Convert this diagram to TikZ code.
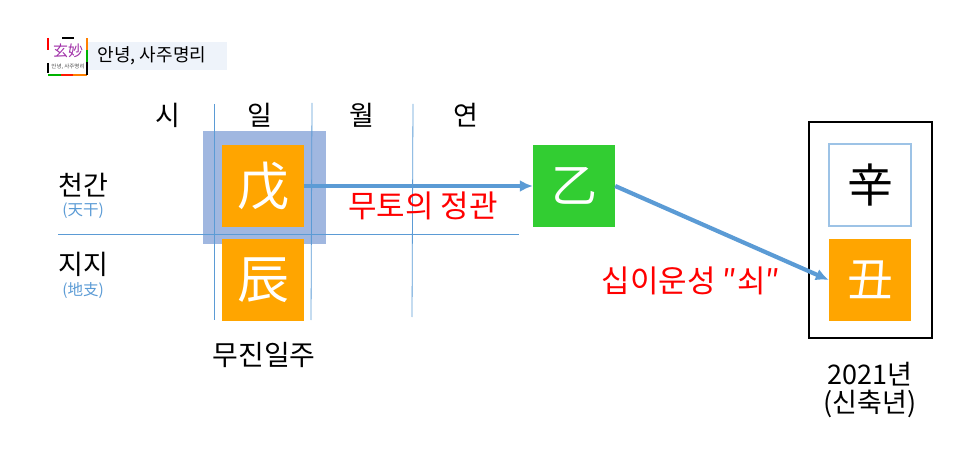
\documentclass[tikz,border=0pt]{standalone}
\usepackage{fontspec}
\setmainfont{Noto Sans CJK KR}
\usetikzlibrary{arrows.meta}

\begin{document}
\begin{tikzpicture}[x=1pt,y=-1pt]

% ---------- parameters ----------
\def\cell{82pt}

% ---------- colors ----------
\definecolor{lineblue}{HTML}{5B9BD5}
\definecolor{dayblue}{HTML}{A0B7E0}
\definecolor{earth}{HTML}{FFA500}
\definecolor{wood}{HTML}{32CD32}
\definecolor{band}{HTML}{EEF3FA}
\definecolor{metalblue}{HTML}{9DC3E6}
\definecolor{logopurple}{HTML}{A030A8}

% ---------- styles ----------
\tikzset{
  grid/.style={draw=lineblue,line width=0.8pt},
  link/.style={draw=lineblue,line width=4.2pt,-{Latex[length=13pt,width=12pt]}},
  tile/.style={minimum size=\cell,inner sep=0pt,text=white,font=\fontsize{52}{56}\selectfont},
  small tile/.style={tile,font=\fontsize{46}{50}\selectfont},
  head/.style={font=\fontsize{27}{31}\selectfont},
  note/.style={text=lineblue,font=\fontsize{15.5}{18}\selectfont},
  red label/.style={text=red,font=\fontsize{31}{35}\selectfont},
  dash bit/.style={line width=1.5pt}
}

\useasboundingbox (0,0) rectangle (969,457);

% ---------- logo ----------
\fill[band] (88,42) rectangle (227,70);
\node[font=\fontsize{18}{22}\selectfont] (title) at (152,56) {안녕, 사주명리};
\node[text=logopurple,font=\fontsize{15}{17}\selectfont] (logo) at (68,51) {玄妙};
\node[font=\fontsize{5.5}{7}\selectfont,text=black!70] (logosub) at (68,67) {안녕, 사주명리};
\draw[dash bit,green!70!black] (48,75) -- (61,75);
\draw[dash bit,red!80!orange] (61,75) -- (73,75);
\draw[dash bit,orange] (73,75) -- (87,75);
\draw[dash bit,black] (87,75) -- (87,62);
\draw[dash bit,green!70!black] (87,62) -- (87,50);
\draw[dash bit,orange] (87,50) -- (87,38);
\draw[dash bit,black] (62,38) -- (74,38);
\draw[dash bit,red] (48,38) -- (48,50);
\draw[dash bit,black] (48,63) -- (48,73);

% ---------- highlight ----------
\fill[dayblue] (203,131) rectangle (326,244);

% ---------- grid ----------
\draw[grid] (214,104) -- (214,320);
\draw[grid] (312,103) -- (311,320);
\draw[grid] (413,104) -- (412,317);
\draw[grid] (58,234) -- (519,234);

% ---------- headers ----------
\node[head] (si)   at (168,115) {시};
\node[head] (il)   at (260,115) {일};
\node[head] (wol)  at (362,115) {월};
\node[head] (yeon) at (466,115) {연};

\node[head] (cheongan) at (83,185) {천간};
\node[note] (cheonnote) at (83,211) {(天干)};
\node[head] (jiji) at (83,264) {지지};
\node[note] (jinote) at (83,291) {(地支)};

% ---------- tiles ----------
\node[tile,fill=earth] (mu)   at (263,186) {戊};
\node[tile,fill=earth] (jin)  at (263,280) {辰};
\node[small tile,fill=wood]  (eul)  at (574,186) {乙};

% 2021 box
\node[draw=black,line width=2pt,minimum width=123pt,minimum height=216pt,inner sep=0pt] (yearbox) at (870.5,230) {};
\node[small tile,draw=metalblue,line width=1.2pt,text=black] (sin) at (870,185) {辛};
\node[small tile,fill=earth] (chuk) at (870,280) {丑};

% ---------- arrows ----------
\draw[link] (mu.east) -- (eul.west);
\draw[link] (eul.east) -- (chuk.west);

% ---------- labels ----------
\node[red label] (jeonggwan) at (423,206) {무토의 정관};
\node[red label] (unseong) at (691,281) {십이운성 ″쇠″};
\node[head,font=\fontsize{28}{32}\selectfont] (ilju) at (264,355) {무진일주};
\node[head] (year) at (870,374) {2021년};
\node[head] (yearname) at (870,404) {(신축년)};

\end{tikzpicture}
\end{document}
